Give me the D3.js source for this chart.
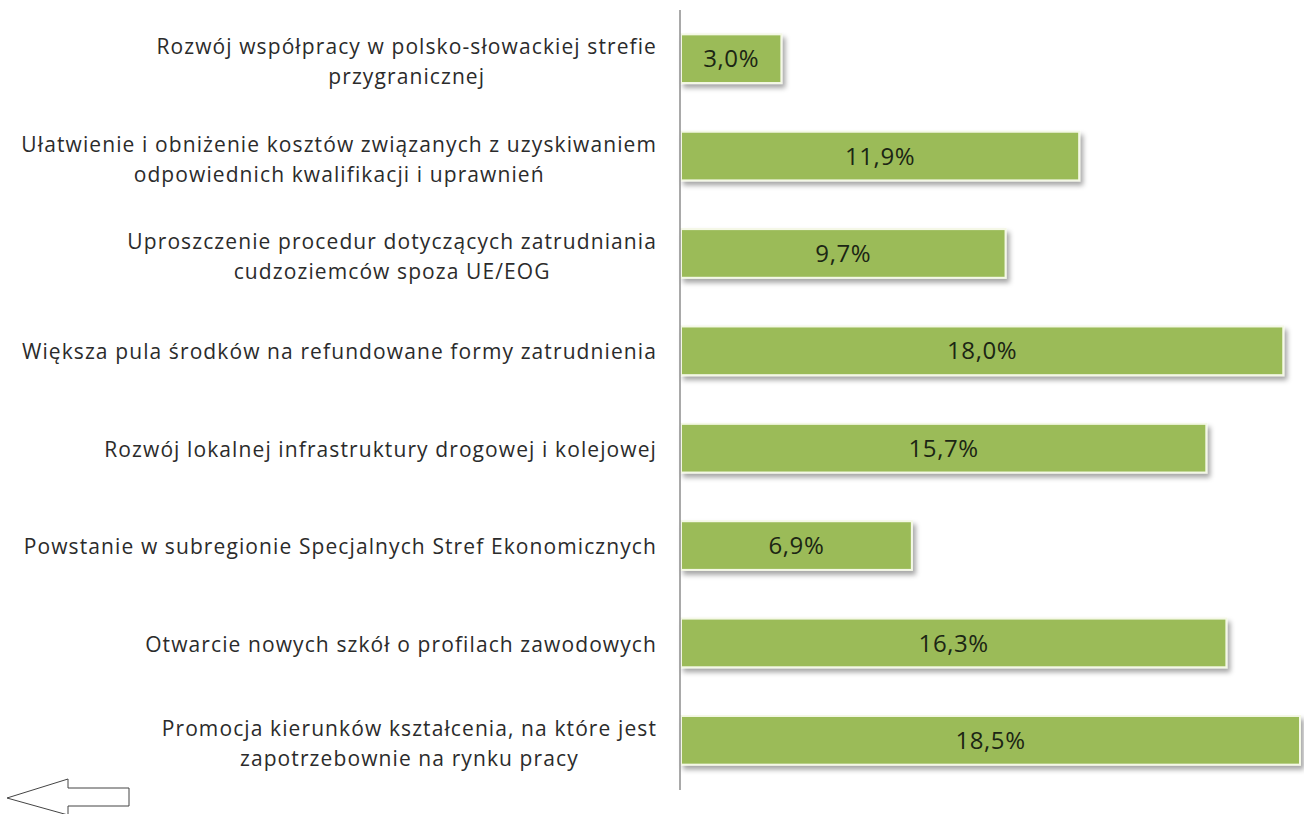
<html>
  <head>
    <script src="https://d3js.org/d3.v7.min.js"></script>
    <style>
      body { margin: 0; background: #fff; }
      .label { font-family: "Open Sans", sans-serif; font-size: 21px; letter-spacing: 1.1px; fill: #2b2b2b; }
      .value { font-family: "Open Sans", sans-serif; font-size: 24px; letter-spacing: 0.6px; fill: #1c2614; }
    </style>
  </head>
  <body>
    <svg id="chart" width="1304" height="814"></svg>
    <script>
      // categories (top to bottom), lines split as in the original
      const categories = [
        ["Rozwój współpracy w polsko-słowackiej strefie", "przygranicznej"],
        ["Ułatwienie i obniżenie kosztów związanych z uzyskiwaniem", "odpowiednich kwalifikacji i uprawnień"],
        ["Uproszczenie procedur dotyczących zatrudniania", "cudzoziemców spoza UE/EOG"],
        ["Większa pula środków na refundowane formy zatrudnienia"],
        ["Rozwój lokalnej infrastruktury drogowej i kolejowej"],
        ["Powstanie w subregionie Specjalnych Stref Ekonomicznych"],
        ["Otwarcie nowych szkół o profilach zawodowych"],
        ["Promocja kierunków kształcenia, na które jest", "zapotrzebownie na rynku pracy"]
      ];
      const values = [3.0, 11.9, 9.7, 18.0, 15.7, 6.9, 16.3, 18.5];
      const valueLabels = ["3,0%", "11,9%", "9,7%", "18,0%", "15,7%", "6,9%", "16,3%", "18,5%"];

      const svg = d3.select("#chart");
      const axisX = 680;
      const labelRight = 657;

      const x = d3.scaleLinear().domain([0, 18.5]).range([axisX + 1, 1300]);
      const y = d3.scaleBand().domain(d3.range(values.length)).range([10, 789]).paddingInner(0.5).paddingOuter(0.25);

      const defs = svg.append("defs");
      const f = defs.append("filter").attr("id", "shadow").attr("x", "-5%").attr("y", "-20%").attr("width", "115%").attr("height", "160%");
      f.append("feDropShadow").attr("dx", 3).attr("dy", 4).attr("stdDeviation", 2.5)
        .attr("flood-color", "#000").attr("flood-opacity", 0.35);

      // bars
      svg.selectAll("rect.bar")
        .data(values)
        .join("rect")
        .attr("class", "bar")
        .attr("x", x(0))
        .attr("y", (d, i) => y(i))
        .attr("width", (d) => x(d) - x(0))
        .attr("height", y.bandwidth())
        .attr("fill", "#9bbb59")
        .attr("stroke", "#f4f8e6")
        .attr("stroke-width", 2)
        .attr("filter", "url(#shadow)");

      // value labels
      svg.selectAll("text.value")
        .data(values)
        .join("text")
        .attr("class", "value")
        .attr("x", (d) => (x(0) + x(d)) / 2)
        .attr("y", (d, i) => y(i) + y.bandwidth() / 2)
        .attr("dy", "0.36em")
        .attr("text-anchor", "middle")
        .text((d, i) => valueLabels[i]);

      // category labels: lines centred on each other, block right-aligned
      const lineH = 30;
      const labels = svg.selectAll("text.label")
        .data(categories)
        .join("text")
        .attr("class", "label")
        .attr("text-anchor", "middle");

      labels.selectAll("tspan")
        .data((d) => d.map((t, j) => ({ t, j, n: d.length })))
        .join("tspan")
        .attr("x", 0)
        .attr("y", (d) => (d.j - (d.n - 1) / 2) * lineH)
        .attr("dy", "0.36em")
        .text((d) => d.t);

      labels.attr("transform", function (d, i) {
        const w = d3.max(d3.select(this).selectAll("tspan").nodes(), (n) => n.getComputedTextLength());
        const cy = y(i) + y.bandwidth() / 2 + (d.length > 1 ? 3 : 1);
        return "translate(" + (labelRight - w / 2) + "," + cy + ")";
      });

      // vertical axis line
      svg.append("line")
        .attr("x1", axisX).attr("x2", axisX)
        .attr("y1", 10).attr("y2", 790)
        .attr("stroke", "#8c8c8c")
        .attr("stroke-width", 1.5);

      // outline arrow, bottom left
      svg.append("path")
        .attr("d", "M7,798 L68,779 L68,788 L129,788 L129,806 L68,806 L68,815 Z")
        .attr("fill", "#fff")
        .attr("stroke", "#444")
        .attr("stroke-width", 1);
    </script>
  </body>
</html>
